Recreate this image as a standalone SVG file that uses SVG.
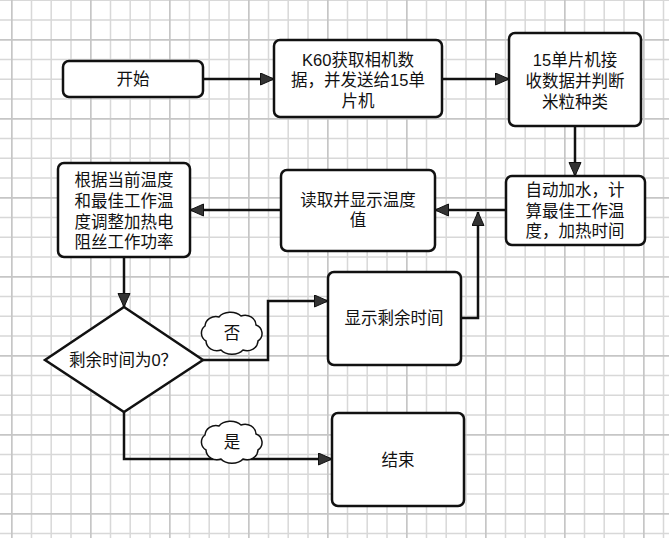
<svg xmlns="http://www.w3.org/2000/svg" width="669" height="538" viewBox="0 0 669 538">
<style>
.box{fill:#fff;stroke:#111;stroke-width:2.5}
.t{font-family:"Liberation Sans","Noto Sans CJK SC",sans-serif;font-size:16.5px;fill:#111;text-anchor:middle;dominant-baseline:central}
.c{fill:none;stroke:#111;stroke-width:2.5}
.cloud{fill:#fff;stroke:#111;stroke-width:1.5}
</style>
<defs>
<pattern id="grid" patternUnits="userSpaceOnUse" x="11" y="39" width="79" height="79">
<path d="M20.5 0V79M40.2 0V79M60 0V79M0 20.5H79M0 40.2H79M0 60H79" stroke="#d8d8d8" stroke-width="1.5" fill="none"/>
<path d="M0.7 0V79M0 0.7H79" stroke="#c6c6c6" stroke-width="2" fill="none"/>
</pattern>
<marker id="ah" markerUnits="userSpaceOnUse" markerWidth="16" markerHeight="14" refX="14" refY="6.5" orient="auto">
<path d="M0.5,0.5 L14,6.5 L0.5,12.5 z" fill="#333" stroke="#111" stroke-width="1"/>
</marker>
<path id="cl" d="M-26,-7 A11,10 0 0 1 -12,-16 A13,9 0 0 1 10,-17 A11,10 0 0 1 25,-8 A9,9 0 0 1 27,8 A11,10 0 0 1 12,17 A13,9 0 0 1 -10,17 A11,10 0 0 1 -25,8 A9,9 0 0 1 -26,-7 z"/>
</defs>
<rect width="669" height="538" fill="#fff"/>
<rect width="669" height="538" fill="url(#grid)"/>

<g id="connectors">
<path class="c" d="M203,79 H274" marker-end="url(#ah)"/>
<path class="c" d="M442,79 H509" marker-end="url(#ah)"/>
<path class="c" d="M575,126 V176" marker-end="url(#ah)"/>
<path class="c" d="M506,210 H435" marker-end="url(#ah)"/>
<path class="c" d="M281,210 H190" marker-end="url(#ah)"/>
<path class="c" d="M124,257 V307" marker-end="url(#ah)"/>
<path class="c" d="M203,360 H268 V301 H328" marker-end="url(#ah)"/>
<path class="c" d="M461,318 H478 V212" marker-end="url(#ah)"/>
<path class="c" d="M124,412 V459 H332" marker-end="url(#ah)"/>
<g id="label-no"><use href="#cl" class="cloud" transform="translate(231,333)"/><text class="t" x="232" y="333">否</text></g>
<g id="label-yes"><use href="#cl" class="cloud" transform="translate(231,442)"/><text class="t" x="232" y="442">是</text></g>
</g>

<g id="start"><rect class="box" x="63" y="61" width="140" height="36" rx="6"/><text class="t" x="133" y="79">开始</text></g>
<g id="k60"><rect class="box" x="274" y="40" width="168" height="77" rx="6"/>
<text class="t"><tspan x="358" y="60">K60获取相机数</tspan><tspan x="358" y="80">据，并发送给15单</tspan><tspan x="358" y="101">片机</tspan></text></g>
<g id="mcu"><rect class="box" x="509" y="33" width="132" height="93" rx="6"/>
<text class="t"><tspan x="575" y="60">15单片机接</tspan><tspan x="575" y="81">收数据并判断</tspan><tspan x="575" y="102">米粒种类</tspan></text></g>
<g id="water"><rect class="box" x="506" y="176" width="139" height="69" rx="6"/>
<text class="t"><tspan x="575" y="190">自动加水，计</tspan><tspan x="575" y="211">算最佳工作温</tspan><tspan x="575" y="231">度，加热时间</tspan></text></g>
<g id="read"><rect class="box" x="281" y="170" width="154" height="81" rx="6"/>
<text class="t"><tspan x="358" y="200">读取并显示温度</tspan><tspan x="358" y="220">值</tspan></text></g>
<g id="adjust"><rect class="box" x="58" y="163" width="132" height="94" rx="6"/>
<text class="t"><tspan x="124" y="180">根据当前温度</tspan><tspan x="124" y="201">和最佳工作温</tspan><tspan x="124" y="222">度调整加热电</tspan><tspan x="124" y="242">阻丝工作功率</tspan></text></g>
<g id="decision"><path class="box" d="M124,307 L203,360 L124,412 L45,360 z"/><text class="t" x="123" y="360">剩余时间为0？</text></g>
<g id="show"><rect class="box" x="328" y="272" width="133" height="93" rx="6"/><text class="t" x="394" y="318">显示剩余时间</text></g>
<g id="end"><rect class="box" x="332" y="413" width="132" height="93" rx="6"/><text class="t" x="398" y="460">结束</text></g>
</svg>
